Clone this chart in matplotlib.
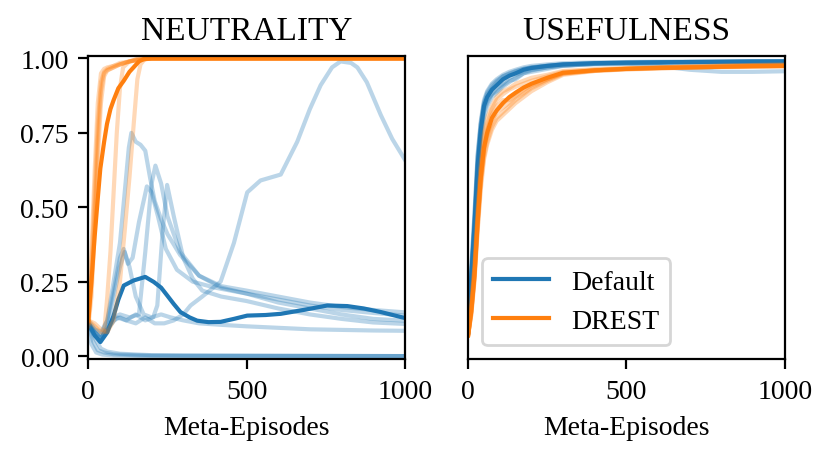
import matplotlib
matplotlib.use('Agg')
import matplotlib.pyplot as plt

plt.rcParams['font.family'] = ['Liberation Serif', 'DejaVu Serif']
plt.rcParams['font.size'] = 10

# ---- NEUTRALITY: Default (blue) seeds, each with its own x/y ----
nb_bottom1_x = [0, 15, 30, 50, 80, 150, 300, 1000]
nb_bottom1_y = [0.11, 0.05, 0.02, 0.012, 0.006, 0.003, 0.001, 0.0]
nb_bottom2_x = [0, 20, 40, 60, 100, 200, 1000]
nb_bottom2_y = [0.12, 0.06, 0.025, 0.015, 0.008, 0.003, 0.0]
nb_bottom3_x = [0, 10, 25, 45, 80, 200, 1000]
nb_bottom3_y = [0.10, 0.04, 0.012, 0.005, 0.002, 0.0, 0.0]

nb_peak75_x = [0, 20, 40, 60, 80, 100, 115, 128, 136, 150, 165, 180, 195, 210, 230, 250, 290, 350, 420, 500, 600, 700, 800, 900, 1000]
nb_peak75_y = [0.11, 0.09, 0.08, 0.12, 0.25, 0.38, 0.55, 0.7, 0.75, 0.72, 0.71, 0.69, 0.60, 0.52, 0.46, 0.41, 0.34, 0.27, 0.235, 0.22, 0.20, 0.18, 0.165, 0.155, 0.147]

nb_peak64_x = [0, 20, 40, 60, 80, 100, 130, 160, 180, 200, 212, 230, 250, 290, 350, 420, 500, 600, 700, 800, 900, 1000]
nb_peak64_y = [0.11, 0.08, 0.06, 0.09, 0.13, 0.14, 0.13, 0.14, 0.35, 0.58, 0.64, 0.58, 0.47, 0.35, 0.27, 0.23, 0.21, 0.19, 0.17, 0.155, 0.145, 0.136]

nb_peak58_x = [0, 20, 40, 60, 90, 120, 150, 180, 205, 218, 235, 249, 270, 300, 330, 360, 420, 500, 600, 700, 800, 900, 1000]
nb_peak58_y = [0.11, 0.08, 0.06, 0.09, 0.13, 0.12, 0.14, 0.12, 0.13, 0.17, 0.42, 0.575, 0.47, 0.33, 0.26, 0.22, 0.2, 0.185, 0.16, 0.14, 0.125, 0.113, 0.108]

nb_peak57_x = [0, 20, 40, 60, 80, 100, 112, 125, 140, 160, 185, 200, 220, 245, 280, 330, 400, 500, 600, 700, 800, 900, 1000]
nb_peak57_y = [0.12, 0.09, 0.07, 0.12, 0.22, 0.33, 0.36, 0.31, 0.33, 0.45, 0.57, 0.55, 0.47, 0.36, 0.29, 0.25, 0.23, 0.21, 0.18, 0.16, 0.14, 0.125, 0.119]

nb_low_x = [0, 20, 40, 60, 80, 100, 115, 130, 150, 175, 200, 230, 260, 300, 350, 420, 500, 600, 700, 800, 900, 1000]
nb_low_y = [0.1, 0.07, 0.06, 0.1, 0.2, 0.3, 0.35, 0.3, 0.2, 0.14, 0.13, 0.14, 0.13, 0.12, 0.11, 0.105, 0.1, 0.095, 0.09, 0.088, 0.086, 0.085]

nb_late_x = [0, 20, 40, 60, 80, 100, 120, 150, 180, 210, 240, 270, 300, 323, 360, 418, 460, 502, 544, 608, 660, 700, 734, 770, 797, 830, 850, 880, 924, 960, 1000]
nb_late_y = [0.11, 0.08, 0.06, 0.09, 0.12, 0.13, 0.12, 0.11, 0.13, 0.11, 0.11, 0.12, 0.14, 0.17, 0.2, 0.25, 0.38, 0.55, 0.59, 0.61, 0.72, 0.83, 0.91, 0.97, 0.99, 0.985, 0.97, 0.92, 0.81, 0.73, 0.66]

neut_default_mean_x = [0, 20, 38, 60, 80, 95, 112, 143, 180, 207, 230, 249, 270, 291, 320, 344, 380, 418, 460, 502, 560, 608, 680, 755, 818, 870, 924, 992, 1000]
neut_default_mean_y = [0.11, 0.07, 0.047, 0.08, 0.136, 0.19, 0.237, 0.254, 0.266, 0.249, 0.23, 0.204, 0.175, 0.148, 0.13, 0.119, 0.114, 0.115, 0.125, 0.136, 0.138, 0.142, 0.155, 0.17, 0.168, 0.16, 0.148, 0.13, 0.128]

# ---- NEUTRALITY: DREST (orange) seeds ----
no_fast_x = [0, 10, 20, 30, 40, 50, 60, 80, 100, 130, 160, 200, 1000]
no_fast1_y = [0.12, 0.3, 0.55, 0.78, 0.92, 0.955, 0.965, 0.975, 0.98, 0.99, 0.995, 1.0, 1.0]
no_fast2_y = [0.11, 0.25, 0.48, 0.72, 0.89, 0.95, 0.96, 0.97, 0.98, 0.99, 0.995, 1.0, 1.0]
no_fast3_y = [0.12, 0.35, 0.62, 0.85, 0.95, 0.965, 0.97, 0.975, 0.985, 0.99, 0.995, 1.0, 1.0]
no_fast4_y = [0.1, 0.2, 0.42, 0.66, 0.85, 0.94, 0.96, 0.97, 0.98, 0.99, 1.0, 1.0, 1.0]
no_slowA_x = [0, 20, 40, 50, 60, 70, 80, 90, 100, 110, 130, 160, 1000]
no_slowA_y = [0.12, 0.1, 0.08, 0.08, 0.2, 0.35, 0.55, 0.75, 0.9, 0.97, 0.99, 1.0, 1.0]
no_slowB_x = [0, 20, 40, 60, 80, 100, 115, 130, 145, 155, 165, 180, 1000]
no_slowB_y = [0.12, 0.11, 0.09, 0.08, 0.12, 0.25, 0.42, 0.6, 0.8, 0.93, 0.98, 1.0, 1.0]

neut_drest_mean_x = [0, 10, 20, 30, 38, 50, 59, 70, 80, 95, 112, 130, 143, 160, 175, 200, 1000]
neut_drest_mean_y = [0.12, 0.25, 0.4, 0.53, 0.63, 0.72, 0.78, 0.83, 0.86, 0.9, 0.925, 0.955, 0.97, 0.99, 0.998, 1.0, 1.0]

# ---- USEFULNESS ----
use_x = [0, 10, 20, 30, 40, 50, 60, 75, 90, 110, 130, 150, 175, 200, 250, 300, 400, 500, 600, 700, 800, 900, 1000]
use_default_seeds = [
    [0.08, 0.30, 0.48, 0.68, 0.79, 0.86, 0.89, 0.915, 0.93, 0.945, 0.955, 0.962, 0.97, 0.975, 0.98, 0.984, 0.987, 0.988, 0.989, 0.99, 0.99, 0.99, 0.991],
    [0.08, 0.25, 0.40, 0.58, 0.72, 0.80, 0.84, 0.87, 0.885, 0.905, 0.92, 0.935, 0.95, 0.96, 0.97, 0.976, 0.982, 0.984, 0.986, 0.987, 0.988, 0.989, 0.99],
    [0.08, 0.28, 0.45, 0.66, 0.78, 0.85, 0.88, 0.90, 0.92, 0.94, 0.95, 0.958, 0.965, 0.97, 0.976, 0.98, 0.983, 0.983, 0.975, 0.962, 0.955, 0.955, 0.957],
    [0.08, 0.26, 0.43, 0.62, 0.75, 0.83, 0.86, 0.88, 0.89, 0.91, 0.925, 0.93, 0.95, 0.955, 0.965, 0.975, 0.982, 0.985, 0.987, 0.988, 0.988, 0.989, 0.99],
    [0.08, 0.29, 0.47, 0.67, 0.78, 0.85, 0.885, 0.91, 0.925, 0.94, 0.948, 0.956, 0.965, 0.97, 0.975, 0.98, 0.984, 0.986, 0.987, 0.988, 0.989, 0.99, 0.99],
    [0.08, 0.24, 0.41, 0.60, 0.74, 0.82, 0.85, 0.88, 0.90, 0.915, 0.935, 0.945, 0.955, 0.962, 0.97, 0.976, 0.98, 0.982, 0.984, 0.985, 0.986, 0.986, 0.987],
]
use_default_mean = [0.08, 0.27, 0.44, 0.64, 0.76, 0.84, 0.87, 0.895, 0.91, 0.93, 0.942, 0.95, 0.962, 0.968, 0.975, 0.98, 0.984, 0.986, 0.987, 0.988, 0.989, 0.99, 0.99]

use_drest_seeds = [
    [0.07, 0.17, 0.30, 0.48, 0.63, 0.73, 0.78, 0.83, 0.86, 0.88, 0.895, 0.905, 0.915, 0.925, 0.94, 0.955, 0.962, 0.966, 0.969, 0.971, 0.973, 0.975, 0.976],
    [0.07, 0.14, 0.25, 0.42, 0.56, 0.66, 0.71, 0.76, 0.79, 0.81, 0.83, 0.85, 0.87, 0.89, 0.92, 0.945, 0.958, 0.964, 0.967, 0.97, 0.972, 0.973, 0.974],
    [0.07, 0.16, 0.28, 0.46, 0.60, 0.70, 0.76, 0.81, 0.84, 0.86, 0.86, 0.875, 0.895, 0.91, 0.93, 0.95, 0.96, 0.965, 0.968, 0.97, 0.972, 0.974, 0.975],
    [0.07, 0.15, 0.27, 0.44, 0.59, 0.69, 0.74, 0.79, 0.82, 0.835, 0.85, 0.87, 0.885, 0.905, 0.93, 0.95, 0.958, 0.963, 0.966, 0.969, 0.971, 0.972, 0.973],
    [0.07, 0.18, 0.31, 0.50, 0.65, 0.75, 0.80, 0.84, 0.87, 0.89, 0.90, 0.915, 0.925, 0.935, 0.945, 0.958, 0.964, 0.968, 0.97, 0.973, 0.975, 0.977, 0.978],
    [0.07, 0.14, 0.26, 0.43, 0.58, 0.67, 0.72, 0.77, 0.80, 0.82, 0.84, 0.86, 0.88, 0.90, 0.925, 0.948, 0.96, 0.966, 0.97, 0.973, 0.976, 0.978, 0.98],
]
use_drest_mean = [0.07, 0.15, 0.27, 0.45, 0.60, 0.70, 0.75, 0.80, 0.825, 0.85, 0.87, 0.885, 0.902, 0.915, 0.935, 0.952, 0.96, 0.965, 0.968, 0.97, 0.972, 0.974, 0.975]

blue = 'C0'
orange = 'C1'
seed_alpha = 0.3

fig, (ax1, ax2) = plt.subplots(1, 2, figsize=(4.165, 2.32), dpi=200)
fig.subplots_adjust(left=0.106, right=0.942, bottom=0.224, top=0.877, wspace=0.2)

# neutrality
blue_seeds = [
    (nb_bottom1_x, nb_bottom1_y), (nb_bottom2_x, nb_bottom2_y), (nb_bottom3_x, nb_bottom3_y),
    (nb_peak75_x, nb_peak75_y), (nb_peak64_x, nb_peak64_y), (nb_peak58_x, nb_peak58_y),
    (nb_peak57_x, nb_peak57_y), (nb_low_x, nb_low_y), (nb_late_x, nb_late_y),
]
for sx, sy in blue_seeds:
    ax1.plot(sx, sy, color=blue, alpha=seed_alpha)
ax1.plot(neut_default_mean_x, neut_default_mean_y, color=blue)

orange_seeds = [
    (no_fast_x, no_fast1_y), (no_fast_x, no_fast2_y), (no_fast_x, no_fast3_y), (no_fast_x, no_fast4_y),
    (no_slowA_x, no_slowA_y), (no_slowB_x, no_slowB_y),
]
for sx, sy in orange_seeds:
    ax1.plot(sx, sy, color=orange, alpha=seed_alpha)
ax1.plot(neut_drest_mean_x, neut_drest_mean_y, color=orange)

ax1.set_title('NEUTRALITY', fontsize=12)
ax1.set_xlim(0, 1000)
ax1.set_ylim(-0.01, 1.008)
ax1.set_xticks([0, 500, 1000])
ax1.set_yticks([0, 0.25, 0.5, 0.75, 1.0])
ax1.set_xlabel('Meta-Episodes')

# usefulness
for sy in use_default_seeds:
    ax2.plot(use_x, sy, color=blue, alpha=seed_alpha)
ax2.plot(use_x, use_default_mean, color=blue, label='Default')
for sy in use_drest_seeds:
    ax2.plot(use_x, sy, color=orange, alpha=seed_alpha)
ax2.plot(use_x, use_drest_mean, color=orange, label='DREST')

ax2.set_title('USEFULNESS', fontsize=12)
ax2.set_xlim(0, 1000)
ax2.set_ylim(-0.01, 1.008)
ax2.set_xticks([0, 500, 1000])
ax2.set_yticks([])
ax2.set_xlabel('Meta-Episodes')
ax2.legend(loc='lower left')

fig.savefig('out.png')
